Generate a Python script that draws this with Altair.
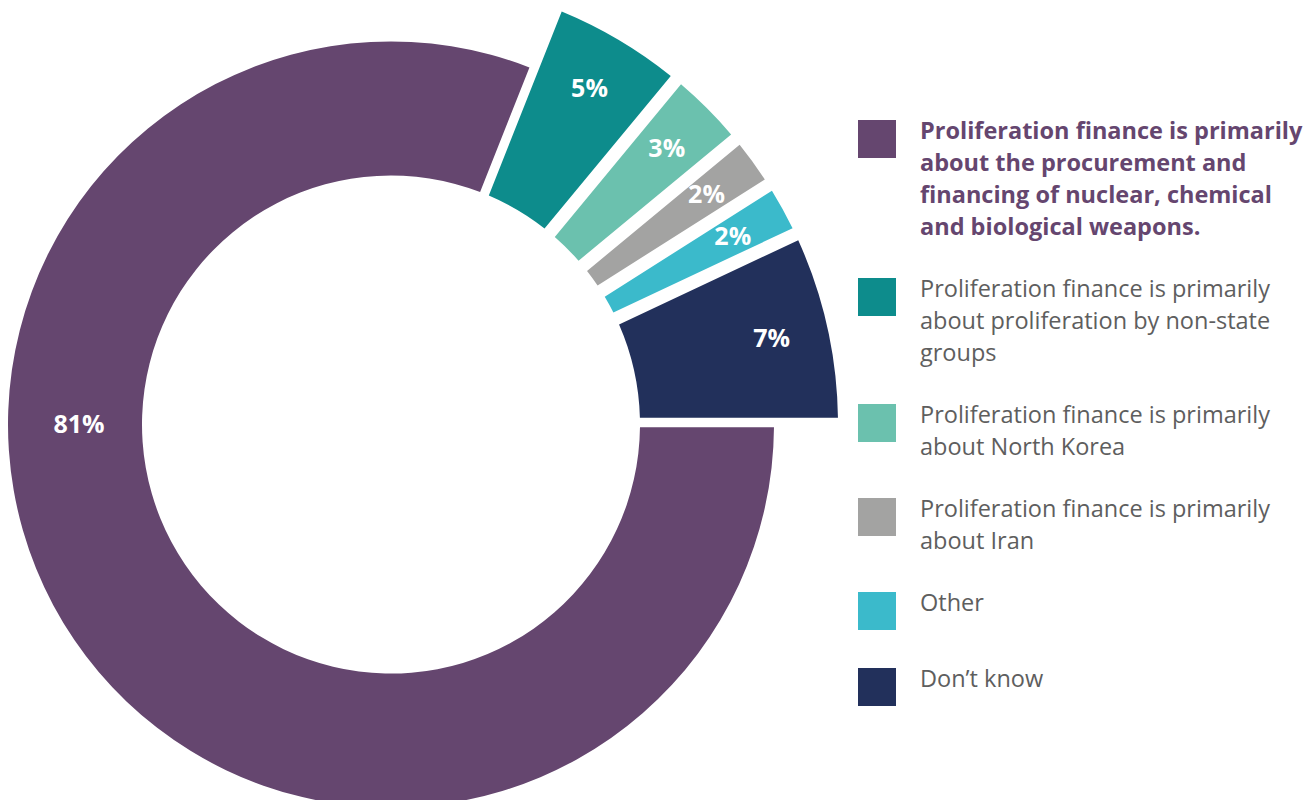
import math
import altair as alt
import pandas as pd

# ---- data ----
categories = [
    "Proliferation finance is primarily\nabout the procurement and\nfinancing of nuclear, chemical\nand biological weapons.",
    "Proliferation finance is primarily\nabout proliferation by non-state\ngroups",
    "Proliferation finance is primarily\nabout North Korea",
    "Proliferation finance is primarily\nabout Iran",
    "Other",
    "Don\u2019t know",
]
shares = [81, 5, 3, 2, 2, 7]
pct_labels = ["81%", "5%", "3%", "2%", "2%", "7%"]
colors = ["#65466F", "#0D8C8C", "#6BC1AE", "#A3A3A2", "#3BBACB", "#22305B"]

df = pd.DataFrame({
    "category": categories,
    "share": shares,
    "label": pct_labels,
    "order": list(range(len(categories))),
})

FONT = "Open Sans"
CX, CY = 383, 416.5  # donut centre inside the view

theta_scale = alt.Scale(domain=[0, 100], range=[math.pi / 2, math.pi / 2 + 2 * math.pi])

base = alt.Chart(df).transform_window(
    end="sum(share)", sort=[alt.SortField("order")], frame=[None, 0]
).transform_calculate(
    start="datum.end - datum.share"
).transform_calculate(
    mid="datum.share > 50 ? datum.start + 50 : (datum.start + datum.end) / 2",
    outer="datum.share > 50 ? 383 : 447",
    label_r="datum.share > 50 ? 312 : 390",
)

legend = alt.Legend(
    title=None,
    orient="none",
    legendX=850,
    legendY=112,
    padding=0,
    symbolType="square",
    symbolSize=1444,
    symbolStrokeWidth=0,
    labelFont=FONT,
    labelFontSize=23.5,
    labelLimit=1000,
    labelOffset=24,
    labelBaseline="alphabetic",
    rowPadding=38,
    labelExpr="split(datum.label, '\\n')",
    labelColor={"expr": "indexof(datum.value, 'procurement') >= 0 ? '#65466F' : '#5E5E5E'"},
    labelFontWeight={"expr": "indexof(datum.value, 'procurement') >= 0 ? 'bold' : 'normal'"},
)

arcs = base.mark_arc(
    innerRadius=249,
    padAngle={"expr": "datum.share > 50 ? 0.012 : 0.026"},
).encode(
    theta=alt.Theta("start:Q", scale=theta_scale),
    theta2="end:Q",
    radius=alt.Radius("outer:Q", scale=None),
    color=alt.Color("category:N", scale=alt.Scale(domain=categories, range=colors), legend=legend),
    x=alt.value(CX),
    y=alt.value(CY),
)

texts = base.mark_text(font=FONT, fontSize=25, fontWeight="bold", color="white").encode(
    theta=alt.Theta("mid:Q", scale=theta_scale),
    radius=alt.Radius("label_r:Q", scale=None),
    text="label:N",
    x=alt.value(CX),
    y=alt.value(CY),
)

chart = alt.layer(arcs, texts).properties(
    width=1299,
    height=792,
    padding=0,
    autosize=alt.AutoSizeParams(type="none"),
).configure(
    style={"guide-label": {"lineHeight": 32}}
).configure_view(strokeWidth=0)

chart.save("out.html", embed_options={"renderer": "svg", "actions": False})
